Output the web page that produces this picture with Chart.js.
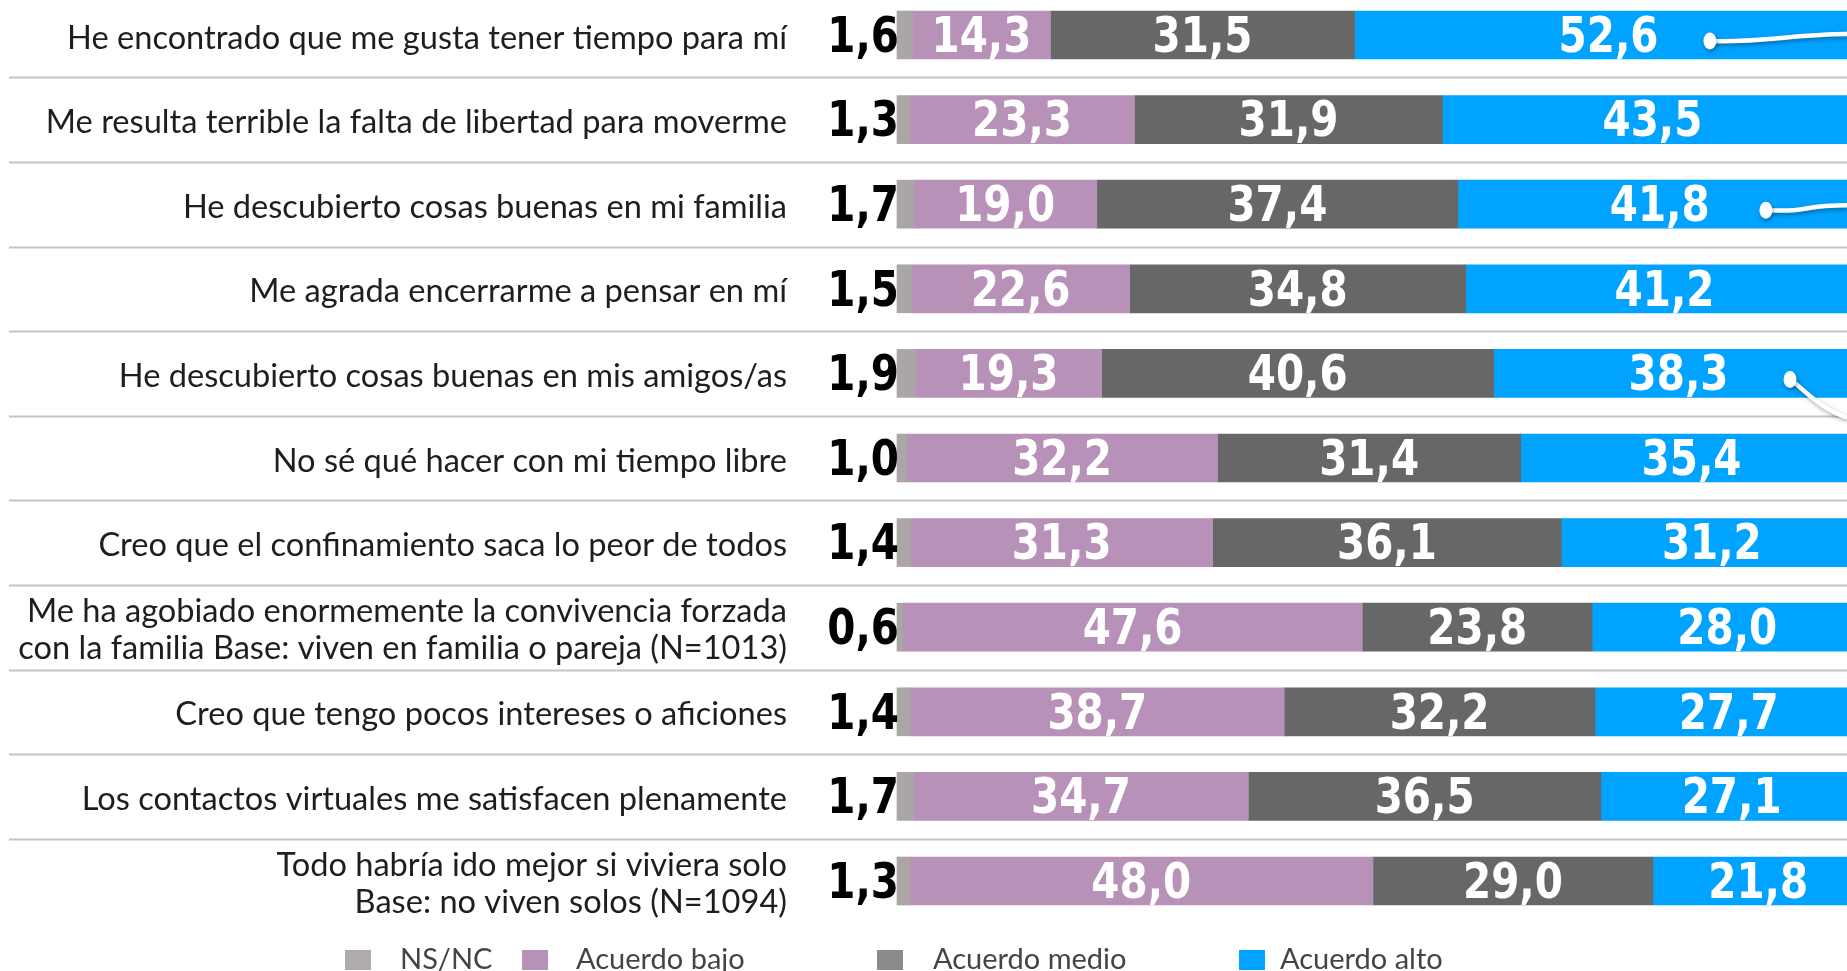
<!DOCTYPE html>
<html lang="es">
<head>
<meta charset="UTF-8">
<title>Confinamiento</title>
<script src="https://cdn.jsdelivr.net/npm/chart.js@4.4.1/dist/chart.umd.min.js"></script>
<style>
    body { margin: 0; background: #fff; }
    .wrap { width: 1847px; height: 971px; position: relative; }
</style>
</head>
<body>
<div class="wrap"><canvas id="grafico"></canvas></div>
<script>
    // categorías (las de dos líneas van como arrays)
    const categorias = [
        'He encontrado que me gusta tener tiempo para mí',
        'Me resulta terrible la falta de libertad para moverme',
        'He descubierto cosas buenas en mi familia',
        'Me agrada encerrarme a pensar en mí',
        'He descubierto cosas buenas en mis amigos/as',
        'No sé qué hacer con mi tiempo libre',
        'Creo que el confinamiento saca lo peor de todos',
        ['Me ha agobiado enormemente la convivencia forzada', 'con la familia Base: viven en familia o pareja (N=1013)'],
        'Creo que tengo pocos intereses o aficiones',
        'Los contactos virtuales me satisfacen plenamente',
        ['Todo habría ido mejor si viviera solo', 'Base: no viven solos (N=1094)']
    ];
    const series = ['NS/NC', 'Acuerdo bajo', 'Acuerdo medio', 'Acuerdo alto'];
    const nsnc  = [1.6, 1.3, 1.7, 1.5, 1.9, 1.0, 1.4, 0.6, 1.4, 1.7, 1.3];
    const bajo  = [14.3, 23.3, 19.0, 22.6, 19.3, 32.2, 31.3, 47.6, 38.7, 34.7, 48.0];
    const medio = [31.5, 31.9, 37.4, 34.8, 40.6, 31.4, 36.1, 23.8, 32.2, 36.5, 29.0];
    const alto  = [52.6, 43.5, 41.8, 41.2, 38.3, 35.4, 31.2, 28.0, 27.7, 27.1, 21.8];

    const coloresBarra = ['#aba6a6', '#b891b9', '#676767', '#00a3ff'];
    const coloresLeyenda = ['#b0abab', '#b891b9', '#8a8a8a', '#00a3ff'];

    // conectores decorativos de la derecha: fila, posicion x (%), desplazamiento final (px)
    const conectores = [
        { fila: 0, x: 84.2, dy: -7 },
        { fila: 2, x: 90.0, dy: -5 },
        { fila: 4, x: 92.5, dy: 38 }
    ];

    const fuenteTexto = 'Lato, "Noto Sans", sans-serif';
    const fuenteNum = '"DejaVu Sans Condensed", "Liberation Sans Narrow", sans-serif';

    function fmt(v) {
        return v.toFixed(1).replace('.', ',');
    }

    const etiquetas = {
        id: 'etiquetas',
        beforeDatasetsDraw(chart) {
            const ctx = chart.ctx;
            const y = chart.scales.y;
            ctx.save();
            ctx.strokeStyle = '#c4c4c4';
            ctx.lineWidth = 2;
            for (let i = 0; i < categorias.length - 1; i++) {
                const py = Math.round((y.getPixelForValue(i) + y.getPixelForValue(i + 1)) / 2) + 0.5;
                ctx.beginPath();
                ctx.moveTo(9, py);
                ctx.lineTo(chart.width, py);
                ctx.stroke();
            }
            ctx.restore();
        },
        afterDatasetsDraw(chart) {
            const ctx = chart.ctx;
            ctx.save();
            ctx.textBaseline = 'middle';
            chart.data.datasets.forEach((ds, d) => {
                const meta = chart.getDatasetMeta(d);
                meta.data.forEach((bar, i) => {
                    const v = ds.data[i];
                    ctx.save();
                    ctx.font = 'bold 45px ' + fuenteNum;
                    if (d === 0) {
                        ctx.fillStyle = '#000';
                        ctx.textAlign = 'right';
                        ctx.translate(bar.base + 2, bar.y + 4);
                    } else {
                        ctx.fillStyle = '#fff';
                        ctx.textAlign = 'center';
                        ctx.translate((bar.x + bar.base) / 2, bar.y + 4);
                    }
                    ctx.scale(1, 1.1);
                    ctx.fillText(fmt(v), 0, 0);
                    ctx.restore();
                });
            });

            // conectores blancos
            const xs = chart.scales.x, ys = chart.scales.y;
            conectores.forEach(c => {
                const px = xs.getPixelForValue(c.x);
                const py = ys.getPixelForValue(c.fila) + 6;
                ctx.save();
                ctx.shadowColor = 'rgba(0,0,0,0.35)';
                ctx.shadowBlur = 4;
                ctx.shadowOffsetX = 1;
                ctx.shadowOffsetY = 2;
                ctx.strokeStyle = '#fff';
                ctx.fillStyle = '#fff';
                ctx.lineWidth = 4.5;
                ctx.beginPath();
                ctx.moveTo(px, py);
                if (c.dy > 0) {
                    ctx.bezierCurveTo(px + 10, py + 6, chart.width - 30, py + c.dy - 10, chart.width, py + c.dy);
                } else {
                    ctx.bezierCurveTo(px + 50, py + 2, chart.width - 50, py + c.dy, chart.width, py + c.dy);
                }
                ctx.stroke();
                ctx.beginPath();
                ctx.ellipse(px, py, 6.5, 8.5, 0, 0, Math.PI * 2);
                ctx.fill();
                ctx.restore();
            });

            // leyenda
            const lx = [345, 522, 877, 1239];
            const tx = [400, 576, 933, 1280];
            ctx.font = '29px ' + fuenteTexto;
            ctx.textAlign = 'left';
            series.forEach((s, k) => {
                ctx.fillStyle = coloresLeyenda[k];
                ctx.fillRect(lx[k], 950, 26, 20);
                ctx.fillStyle = '#444';
                ctx.fillText(s, tx[k], 960);
            });
            ctx.restore();
        }
    };

    const datos = [nsnc, bajo, medio, alto];
    new Chart(document.getElementById('grafico'), {
        type: 'bar',
        data: {
            labels: categorias,
            datasets: series.map((s, k) => ({
                label: s,
                data: datos[k],
                backgroundColor: coloresBarra[k],
                borderWidth: 0,
                barThickness: 48,
                clip: false
            }))
        },
        options: {
            indexAxis: 'y',
            responsive: true,
            maintainAspectRatio: false,
            animation: false,
            layout: { padding: { top: 35, bottom: 90, left: 0, right: 0 } },
            plugins: {
                legend: { display: false },
                tooltip: { enabled: false }
            },
            scales: {
                x: {
                    stacked: true,
                    min: 0,
                    max: 98.4,
                    display: false
                },
                y: {
                    stacked: true,
                    offset: false,
                    grid: { display: false, drawTicks: false },
                    border: { display: false },
                    ticks: {
                        color: '#1e1e1e',
                        padding: 110,
                        labelOffset: 3,
                        font: { family: fuenteTexto, size: 32.6, lineHeight: 1.12 }
                    },
                    afterFit(axis) {
                        axis.width = 897;
                        axis.paddingTop = 0;
                        axis.paddingBottom = 0;
                    }
                }
            }
        },
        plugins: [etiquetas]
    });
</script>
</body>
</html>
